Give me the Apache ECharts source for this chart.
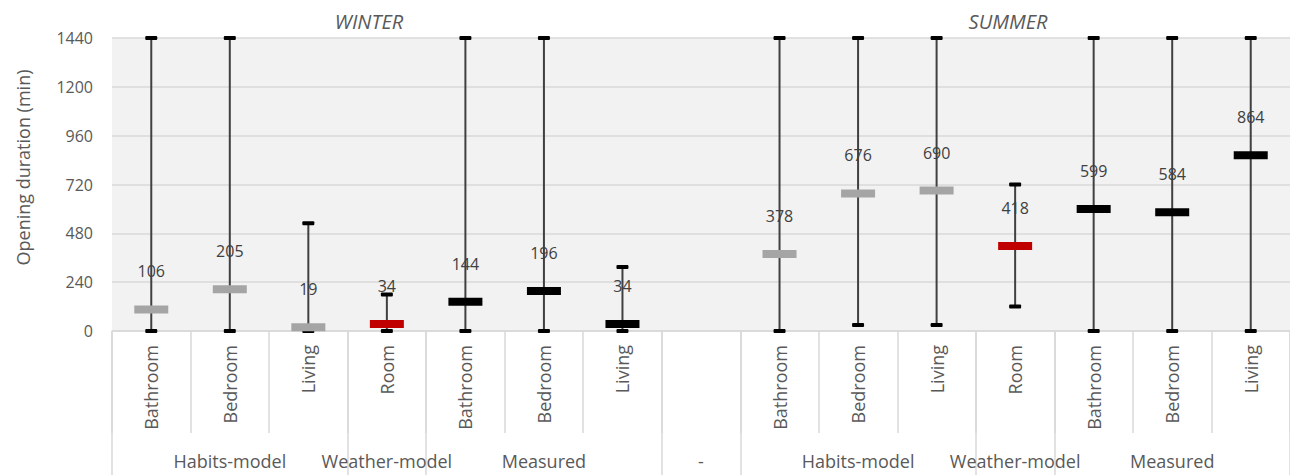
<!DOCTYPE html>
<html>
<head>
<meta charset="utf-8">
<style>
html,body{margin:0;padding:0;background:#fff;}
#chart{width:1290px;height:475px;}
</style>
<script src="https://cdn.jsdelivr.net/npm/echarts@6/dist/echarts.min.js"></script>
</head>
<body>
<div id="chart"></div>
<script>
// ---- data ----
const categories = ['Bathroom','Bedroom','Living','Room','Bathroom','Bedroom','Living','','Bathroom','Bedroom','Living','Room','Bathroom','Bedroom','Living'];
const groupLabels = ['','Habits-model','','Weather-model','','Measured','','-','','Habits-model','','Weather-model','','Measured',''];
const groupBoundaries = [0,3,4,7,8,11,12];
const sources = ['habits','habits','habits','weather','measured','measured','measured',null,'habits','habits','habits','weather','measured','measured','measured'];
const means = [106,205,19,34,144,196,34,null,378,676,690,418,599,584,864];
const mins  = [0,0,0,0,0,0,0,null,0,30,30,120,0,0,0];
const maxs  = [1440,1440,530,180,1440,1440,315,null,1440,1440,1440,720,1440,1440,1440];
const yTicks = [0,240,480,720,960,1200,1440];
const seasonTitles = ['WINTER','SUMMER'];
const yName = 'Opening duration (min)';

const sourceColors = {habits:'#A5A5A5', weather:'#C00000', measured:'#000000'};
const FONT = '"Open Sans", sans-serif';

const whiskerData = [];
const meanData = [];
means.forEach((m, i) => {
  if (m === null) return;
  whiskerData.push([i, mins[i], maxs[i]]);
  meanData.push({value:[i, m], itemStyle:{color: sourceColors[sources[i]], opacity:1}});
});

const chart = echarts.init(document.getElementById('chart'), null, {renderer:'svg'});
chart.setOption({
  animation: false,
  backgroundColor: '#ffffff',
  grid: {left:112, right:0, top:38, bottom:144, show:true, backgroundColor:'#F2F2F2', borderWidth:0},
  graphic: [
    {type:'text', x:369, y:21, style:{text:seasonTitles[0], font:'italic 20px "Open Sans", sans-serif', fill:'#595959', textAlign:'center', textVerticalAlign:'middle'}},
    {type:'text', x:1008, y:21, style:{text:seasonTitles[1], font:'italic 20px "Open Sans", sans-serif', fill:'#595959', textAlign:'center', textVerticalAlign:'middle'}}
  ],
  xAxis: [
    {
      type:'category', data:categories, position:'bottom',
      axisLine:{show:true, lineStyle:{color:'#D9D9D9', width:1.5}},
      axisTick:{show:true, interval:0, length:102, lineStyle:{color:'#D9D9D9', width:1.5}},
      axisLabel:{interval:0, rotate:90, margin:14, fontSize:18, fontFamily:FONT, color:'#595959'},
      splitLine:{show:false}
    },
    {
      type:'category', data:groupLabels, position:'bottom', offset:0,
      axisLine:{show:false},
      axisTick:{show:true, interval:(idx) => groupBoundaries.includes(idx), length:144, lineStyle:{color:'#D9D9D9', width:1.5}},
      axisLabel:{interval:0, margin:121, fontSize:18, fontFamily:FONT, color:'#595959'},
      splitLine:{show:false}
    }
  ],
  yAxis: {
    type:'value', min:yTicks[0], max:yTicks[yTicks.length-1], interval:yTicks[1]-yTicks[0],
    name:yName, nameLocation:'middle', nameGap:80,
    nameTextStyle:{fontSize:18, fontFamily:FONT, color:'#595959', padding:[0,0,0,34]},
    axisLine:{show:false}, axisTick:{show:false},
    axisLabel:{fontSize:16, fontFamily:FONT, color:'#595959', margin:19, formatter:(v) => String(v)},
    splitLine:{show:true, lineStyle:{color:'#D9D9D9', width:1.5}}
  },
  series: [
    {
      type:'custom', xAxisIndex:0, data:whiskerData, encode:{x:0, y:[1,2]}, silent:true,
      renderItem: function(params, api){
        const lo = api.coord([api.value(0), api.value(1)]);
        const hi = api.coord([api.value(0), api.value(2)]);
        const x = lo[0];
        return {type:'group', children:[
          {type:'line', shape:{x1:x, y1:hi[1], x2:x, y2:lo[1]}, style:{stroke:'#404040', lineWidth:2}},
          {type:'rect', shape:{x:x-6, y:hi[1]-2, width:12, height:4, r:1}, style:{fill:'#000000'}},
          {type:'rect', shape:{x:x-6, y:lo[1]-2, width:12, height:4, r:1}, style:{fill:'#000000'}}
        ]};
      }
    },
    {
      type:'scatter', xAxisIndex:0, data:meanData, symbol:'rect', symbolSize:[34,8], silent:true,
      itemStyle:{opacity:1},
      label:{show:true, position:'top', distance:26, formatter:(p) => String(p.value[1]), fontSize:16, fontFamily:FONT, color:'#404040'}
    }
  ]
});
</script>
</body>
</html>
